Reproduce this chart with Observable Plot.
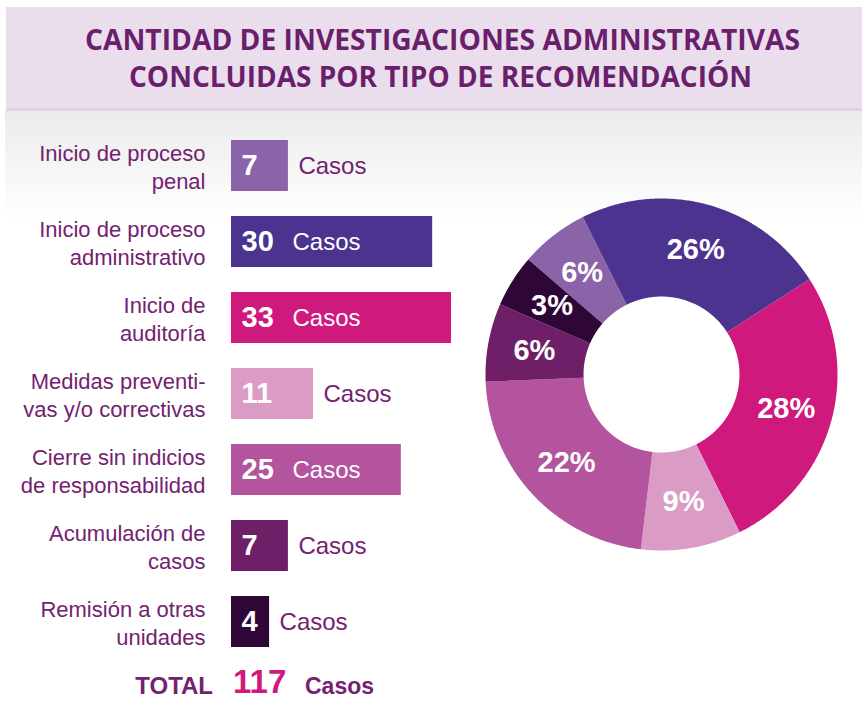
<!DOCTYPE html>
<html>
<head>
<meta charset="utf-8">
<script src="https://cdn.jsdelivr.net/npm/d3@7"></script>
<script src="https://cdn.jsdelivr.net/npm/@observablehq/plot@0.6"></script>
<style>
html, body { margin: 0; padding: 0; background: #ffffff; }
#page { position: relative; width: 868px; height: 701px; overflow: hidden; font-family: "Liberation Sans", Arial, sans-serif; }
#band { position: absolute; left: 6px; top: 7px; width: 856px; height: 101px; background: #EADEED; }
#bandline { position: absolute; left: 6px; top: 108px; width: 856px; height: 3px; background: #E2D0E4; }
#shade { position: absolute; left: 5px; top: 111px; width: 857px; height: 110px; background: linear-gradient(#EBEBEB, #FFFFFF); }
#overlay { position: absolute; left: 0; top: 0; }
#bars { position: absolute; left: 0; top: 110px; }
#donut { position: absolute; left: 481px; top: 194px; }
</style>
</head>
<body>
<div id="page">
  <div id="band"></div>
  <div id="bandline"></div>
  <div id="shade"></div>
  <div id="bars"></div>
  <div id="donut"></div>
  <svg id="overlay" width="868" height="701"></svg>
</div>
<script>
// ---- data ----
const titleLines = ["CANTIDAD DE INVESTIGACIONES ADMINISTRATIVAS", "CONCLUIDAS POR TIPO DE RECOMENDACIÓN"];
const categories = [
  "Inicio de proceso\npenal",
  "Inicio de proceso\nadministrativo",
  "Inicio de\nauditoría",
  "Medidas preventi-\nvas y/o correctivas",
  "Cierre sin indicios\nde responsabilidad",
  "Acumulación de\ncasos",
  "Remisión a otras\nunidades"
];
const casos = [7, 30, 33, 11, 25, 7, 4];
const colors = ["#8B63A9", "#4B338F", "#D0197C", "#DA9CC5", "#B4539E", "#6E1F68", "#2E0737"];
const pctLabels = ["6%", "26%", "28%", "9%", "22%", "6%", "3%"];
// angular share of each ring slice as drawn in the reference (percent of the ring)
const sliceShares = [6.3, 23.3, 26.8, 9.2, 22.5, 7.2, 4.8];
const unitLabel = "Casos";
const totalLabel = "TOTAL";

// ---- style constants ----
const purple = "#73226F";
const magenta = "#D0197C";
const startAngle = -49.2;   // degrees clockwise from 12 o'clock
const innerR = 0.443;
const labelR = 0.735;

const colorScale = { domain: categories, range: colors };

// ---- bar chart ----
const rows = categories.map((c, i) => ({ cat: c, value: casos[i], inside: casos[i] >= 20 }));
const barPlot = Plot.plot({
  width: 470,
  height: 560,
  marginTop: 14.6,
  marginBottom: 7.6,
  marginLeft: 244,
  marginRight: 19,
  x: { domain: [0, d3.max(casos)], axis: null },
  y: { domain: categories, axis: null, paddingInner: 0.323, paddingOuter: 0.1615 },
  color: colorScale,
  style: { background: "transparent", fontFamily: "'Liberation Sans', Arial, sans-serif", overflow: "visible" },
  marks: [
    Plot.barX(rows, { x: "value", y: "cat", fill: "cat", insetLeft: -13 }),
    Plot.text(rows, { y: "cat", text: "cat", frameAnchor: "left", dx: -39, textAnchor: "end", fill: purple, fontSize: 22, lineHeight: 1.28 }),
    Plot.text(rows, { x: () => 0, y: "cat", text: d => String(d.value), textAnchor: "start", dx: -3, fill: "white", fontWeight: "bold", fontSize: 29 }),
    Plot.text(rows.filter(d => d.inside), { x: () => 0, y: "cat", text: () => unitLabel, textAnchor: "start", dx: 48, fill: "white", fontSize: 24 }),
    Plot.text(rows.filter(d => !d.inside), { x: "value", y: "cat", text: () => unitLabel, textAnchor: "start", dx: 10, fill: purple, fontSize: 24 })
  ]
});
document.getElementById("bars").appendChild(barPlot);

// ---- donut ----
const shareTotal = d3.sum(sliceShares);
let acc = 0;
const slices = sliceShares.map((s, i) => {
  const a0 = startAngle + acc / shareTotal * 360;
  acc += s;
  const a1 = startAngle + acc / shareTotal * 360;
  return { cat: categories[i], label: pctLabels[i], a0, a1 };
});
const rad = a => a * Math.PI / 180;
const ringPts = slices.flatMap(sl => {
  const n = Math.max(2, Math.ceil((sl.a1 - sl.a0) / 0.5));
  const pts = [];
  for (let k = 0; k <= n; k++) {
    const a = rad(sl.a0 + (sl.a1 - sl.a0) * k / n);
    pts.push({ cat: sl.cat, x: Math.sin(a), y: Math.cos(a) });
  }
  for (let k = n; k >= 0; k--) {
    const a = rad(sl.a0 + (sl.a1 - sl.a0) * k / n);
    pts.push({ cat: sl.cat, x: innerR * Math.sin(a), y: innerR * Math.cos(a) });
  }
  return pts;
});
const labelPts = slices.map(sl => {
  const a = rad((sl.a0 + sl.a1) / 2);
  return { label: sl.label, x: labelR * Math.sin(a), y: labelR * Math.cos(a) };
});
const donutPlot = Plot.plot({
  width: 360,
  height: 360,
  margin: 4,
  x: { domain: [-1, 1], axis: null },
  y: { domain: [-1, 1], axis: null },
  color: colorScale,
  style: { background: "transparent", fontFamily: "'Liberation Sans', Arial, sans-serif", overflow: "visible" },
  marks: [
    Plot.line(ringPts, { x: "x", y: "y", z: "cat", fill: "cat", stroke: "none", curve: "linear" }),
    Plot.text(labelPts, { x: "x", y: "y", text: "label", fill: "white", fontWeight: "bold", fontSize: 29 })
  ]
});
document.getElementById("donut").appendChild(donutPlot);

// ---- title and total (text) ----
const svg = d3.select("#overlay");
svg.append("text").attr("x", 85).attr("y", 50)
  .attr("textLength", 715).attr("lengthAdjust", "spacingAndGlyphs")
  .attr("fill", "#6B1E6C").attr("font-family", "'Open Sans', sans-serif").attr("font-weight", "bold").attr("font-size", 29)
  .text(titleLines[0]);
svg.append("text").attr("x", 129).attr("y", 87)
  .attr("textLength", 623).attr("lengthAdjust", "spacingAndGlyphs")
  .attr("fill", "#6B1E6C").attr("font-family", "'Open Sans', sans-serif").attr("font-weight", "bold").attr("font-size", 29)
  .text(titleLines[1]);

const total = d3.sum(casos);
const tg = svg.append("g").attr("font-family", "'Liberation Sans', Arial, sans-serif").attr("font-weight", "bold");
tg.append("text").attr("x", 213).attr("y", 694).attr("text-anchor", "end")
  .attr("fill", purple).attr("font-size", 24).text(totalLabel);
tg.append("text").attr("x", 233).attr("y", 693)
  .attr("fill", magenta).attr("font-size", 33).text(String(total));
tg.append("text").attr("x", 305).attr("y", 694)
  .attr("fill", purple).attr("font-size", 23).text(unitLabel);
</script>
</body>
</html>
